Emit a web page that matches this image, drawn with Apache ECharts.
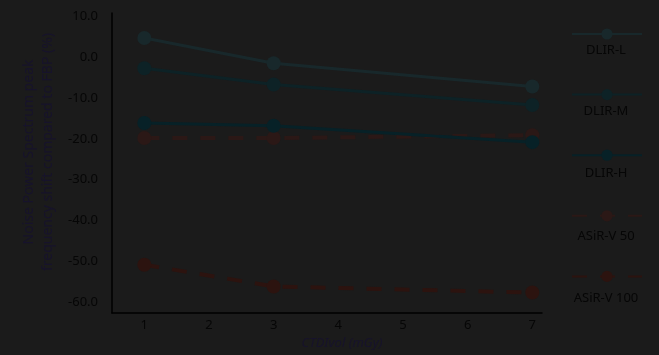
<!DOCTYPE html>
<html>
<head>
<meta charset="utf-8">
<script src="https://cdn.jsdelivr.net/npm/echarts@6/dist/echarts.min.js"></script>
<style>
html,body{margin:0;padding:0;background:#1b1b1b;}
#c{width:659px;height:355px;}
</style>
</head>
<body>
<div id="c"></div>
<script>
const doses = [1, 3, 7];
const xTicks = [1, 2, 3, 4, 5, 6, 7];
const yTicks = [-60, -50, -40, -30, -20, -10, 0, 10];
const seriesNames = ['DLIR-L', 'DLIR-M', 'DLIR-H', 'ASiR-V 50', 'ASiR-V 100'];
const dlirL = [4.7, -1.5, -7.2];
const dlirM = [-2.7, -6.7, -11.7];
const dlirH = [-16.1, -16.8, -20.8];
const asir50 = [-19.8, -19.8, -19.1];
const asir100 = [-50.8, -56.1, -57.6];

const values = [dlirL, dlirM, dlirH, asir50, asir100];
const colors = ['#18282b', '#0d2226', '#072127', '#2b1816', '#2c130f'];
const dashed = [false, false, false, true, true];
const font = '"Noto Sans", "Open Sans", sans-serif';

const chart = echarts.init(document.getElementById('c'));
const series = seriesNames.map((name, i) => ({
  name: name,
  type: 'line',
  data: doses.map((d, j) => [d, values[i][j]]),
  symbol: 'circle',
  symbolSize: 14,
  color: colors[i],
  lineStyle: { width: dashed[i] ? 4 : 3, type: dashed[i] ? [15, 13] : 'solid', color: colors[i] },
  itemStyle: { color: colors[i] },
  emphasis: { disabled: true },
  z: 10 - i
}));

const legendTextY = [50, 111, 173, 236, 298];
const graphics = seriesNames.map((n, i) => ({
  type: 'text',
  x: 606,
  y: legendTextY[i],
  style: { text: n, fill: '#060606', font: '13px ' + font, align: 'center', verticalAlign: 'middle' }
}));

chart.setOption({
  backgroundColor: '#1b1b1b',
  animation: false,
  grid: { left: 112, right: 117, top: 13, bottom: 42, containLabel: false, outerBoundsMode: 'none' },
  xAxis: {
    type: 'value', min: 0.5, max: 7.15,
    axisLine: { onZero: false, lineStyle: { color: '#000', width: 1.5 } },
    axisTick: { show: false },
    splitLine: { show: false },
    axisLabel: { customValues: xTicks, color: '#060606', fontSize: 13, fontFamily: font, margin: 6 },
    name: 'CTDIvol (mGy)', nameLocation: 'middle', nameGap: 24,
    nameTextStyle: { color: '#17132b', fontSize: 13, fontStyle: 'italic', fontFamily: font, padding: [0, 0, 0, 30] }
  },
  yAxis: {
    type: 'value', min: -62.6, max: 10.8,
    axisLine: { show: true, onZero: false, lineStyle: { color: '#000', width: 1.5 } },
    axisTick: { show: false },
    splitLine: { show: false },
    axisLabel: { customValues: yTicks, formatter: v => v.toFixed(1), color: '#060606', fontSize: 13, fontFamily: font, margin: 14 },
    name: 'Noise Power Spectrum peak\nfrequency shift compared to FBP (%)',
    nameLocation: 'middle', nameGap: 52,
    nameTextStyle: { color: '#17132b', fontSize: 14, fontFamily: font, lineHeight: 19, padding: [0, 0, 0, 22] }
  },
  legend: {
    orient: 'vertical', left: 571, top: 27, padding: 0,
    itemWidth: 70, itemHeight: 14, itemGap: 48,
    formatter: () => '',
    textStyle: { fontSize: 1 },
    selectedMode: false,
    data: seriesNames
  },
  graphic: graphics,
  series: series
});
</script>
</body>
</html>
